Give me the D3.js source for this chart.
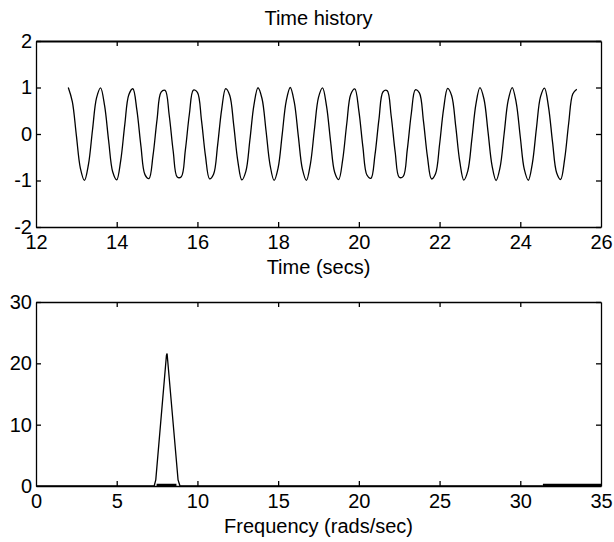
<!DOCTYPE html>
<html>
<head>
<meta charset="utf-8">
<script src="https://cdn.jsdelivr.net/npm/d3@7"></script>
<style>
    body { margin: 0; background: #fff; }
    svg { display: block; font-family: "Liberation Sans", Arial, sans-serif; }
    .axis text { font-size: 20px; fill: #000; }
    .axis path, .axis line { stroke: #000; stroke-width: 1.3; }
    .label { font-size: 20px; fill: #000; }
</style>
</head>
<body>
<div id="chart"></div>
<script>
// Time history samples (t = 12.8 .. 25.4, every 0.1 s).
const TIME_START = 12.8;
const TIME_STEP = 0.1;
const SIGNAL = [
    1.000, 0.697, -0.029, -0.737, -0.998, -0.654, 0.087, 0.776, 0.993, 0.608,
    -0.146, -0.811, -0.985, -0.565, 0.203, 0.844, 0.973, 0.512, -0.260, -0.874,
    -0.958, -0.461, 0.316, 0.901, 0.939, 0.409, -0.371, -0.925, -0.918, -0.352,
    0.425, 0.945, 0.893, 0.299, -0.476, -0.963, -0.864, -0.243, 0.526, 0.977,
    0.834, 0.186, -0.576, -0.988, -0.803, -0.128, 0.623, 0.995, 0.764, 0.070,
    -0.667, -0.999, -0.726, -0.012, 0.709, 1.000, 0.684, -0.047, -0.750, -0.997,
    -0.641, 0.105, 0.786, 0.991, 0.594, -0.163, -0.822, -0.981, -0.550, 0.220,
    0.853, 0.969, 0.497, -0.277, -0.882, -0.952, -0.445, 0.332, 0.908, 0.933,
    0.393, -0.387, -0.931, -0.911, -0.336, 0.441, 0.951, 0.885, 0.282, -0.491,
    -0.967, -0.856, -0.226, 0.541, 0.980, 0.824, 0.168, -0.590, -0.990, -0.792,
    -0.111, 0.637, 0.997, 0.753, 0.052, -0.680, -1.000, -0.714, 0.006, 0.721,
    0.999, 0.671, -0.064, -0.762, -0.995, -0.627, 0.122, 0.797, 0.988, 0.580,
    -0.180, -0.832, -0.978, -0.535, 0.237, 0.862, 0.964
];

// Spectrum (rads/sec vs magnitude).
const FREQ = [0, 7.0, 7.32, 7.42, 8.08, 8.12, 8.8, 8.92, 9.2, 31.4];
const MAG = [0, 0, 0, 1.0, 21.3, 21.6, 1.0, 0, 0, 0];
// Stretches of the spectrum that sit on zero drawn heavier.
const ZERO_RUNS = [[7.47, 8.7], [31.4, 35]];

const TIME_TICKS = [12, 14, 16, 18, 20, 22, 24, 26];
const SIGNAL_TICKS = [-2, -1, 0, 1, 2];
const FREQ_TICKS = [0, 5, 10, 15, 20, 25, 30, 35];
const MAG_TICKS = [0, 10, 20, 30];

const WIDTH = 614;
const HEIGHT = 542;

const svg = d3.select('#chart').append('svg')
    .attr('width', WIDTH)
    .attr('height', HEIGHT);

// Plain integer labels with an ascii hyphen, like the original.
const plain = (d) => String(d);

// Draws one boxed MATLAB-style panel and returns its scales.
function drawPanel(cfg) {
    const x = d3.scaleLinear().domain(cfg.xDomain).range([cfg.left, cfg.right]);
    const y = d3.scaleLinear().domain(cfg.yDomain).range([cfg.bottom, cfg.top]);

    const g = svg.append('g');

    g.append('g').attr('class', 'axis')
        .attr('transform', `translate(0,${cfg.bottom})`)
        .call(d3.axisBottom(x).tickValues(cfg.xTicks).tickFormat(plain)
            .tickSizeInner(-5).tickSizeOuter(0).tickPadding(8));

    g.append('g').attr('class', 'axis top-axis')
        .attr('transform', `translate(0,${cfg.top})`)
        .call(d3.axisTop(x).tickValues(cfg.xTicks).tickSizeInner(-5).tickSizeOuter(0).tickFormat(''));

    g.append('g').attr('class', 'axis')
        .attr('transform', `translate(${cfg.left},0)`)
        .call(d3.axisLeft(y).tickValues(cfg.yTicks).tickFormat(plain)
            .tickSizeInner(-5).tickSizeOuter(0).tickPadding(4));

    g.append('g').attr('class', 'axis')
        .attr('transform', `translate(${cfg.right},0)`)
        .call(d3.axisRight(y).tickValues(cfg.yTicks).tickSizeInner(-5).tickSizeOuter(0).tickFormat(''));

    g.selectAll('.tick line').filter((d) => d === cfg.xDomain[0] || d === cfg.xDomain[1]).remove();
    g.selectAll('.axis text').attr('fill', '#000');

    if (cfg.thickTop) g.select('.top-axis .domain').style('stroke-width', 2.2);

    g.append('text')
        .attr('class', 'label')
        .attr('x', (cfg.left + cfg.right) / 2)
        .attr('y', cfg.bottom + 47)
        .attr('text-anchor', 'middle')
        .text(cfg.xLabel);

    return { g, x, y };
}

const timePanel = drawPanel({
    left: 36, right: 601, top: 41, bottom: 227,
    xDomain: [12, 26], yDomain: [-2, 2],
    xTicks: TIME_TICKS, yTicks: SIGNAL_TICKS,
    xLabel: 'Time (secs)', thickTop: true
});

svg.append('text')
    .attr('class', 'label')
    .attr('x', (36 + 601) / 2)
    .attr('y', 25)
    .attr('text-anchor', 'middle')
    .text('Time history');

// Smooth curve through the samples so the peaks round off as in the original.
const timeLine = d3.line()
    .x((d, i) => timePanel.x(TIME_START + i * TIME_STEP))
    .y((d) => timePanel.y(d))
    .curve(d3.curveCatmullRom);

timePanel.g.append('path')
    .datum(SIGNAL)
    .attr('d', timeLine)
    .attr('fill', 'none')
    .attr('stroke', '#000')
    .attr('stroke-width', 1.3);

const freqPanel = drawPanel({
    left: 36, right: 601, top: 302, bottom: 486,
    xDomain: [0, 35], yDomain: [0, 30],
    xTicks: FREQ_TICKS, yTicks: MAG_TICKS,
    xLabel: 'Frequency (rads/sec)'
});

const freqLine = d3.line()
    .x((d, i) => freqPanel.x(FREQ[i]))
    .y((d) => freqPanel.y(d));

freqPanel.g.append('path')
    .datum(MAG)
    .attr('d', freqLine)
    .attr('fill', 'none')
    .attr('stroke', '#000')
    .attr('stroke-width', 1.3);

freqPanel.g.selectAll('.zero-run')
    .data(ZERO_RUNS)
    .join('line')
    .attr('class', 'zero-run')
    .attr('x1', (d) => freqPanel.x(d[0]))
    .attr('x2', (d) => freqPanel.x(d[1]))
    .attr('y1', freqPanel.y(0) - 1)
    .attr('y2', freqPanel.y(0) - 1)
    .attr('stroke', '#000')
    .attr('stroke-width', 2.5);
</script>
</body>
</html>
